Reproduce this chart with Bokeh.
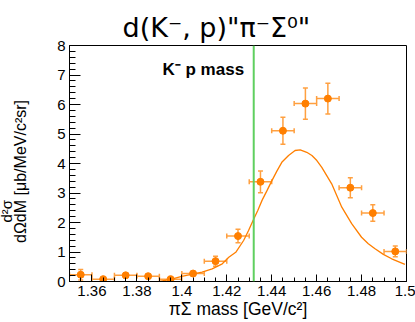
from bokeh.plotting import figure
from bokeh.models import (ColumnDataSource, Whisker, TeeHead, Span, Label,
                          Range1d, FixedTicker, Title)
from bokeh.embed import file_html
from bokeh.resources import INLINE

# ---- data ----
bin_centers = [1.355, 1.365, 1.375, 1.385, 1.395, 1.405, 1.415, 1.425,
               1.435, 1.445, 1.455, 1.465, 1.475, 1.485, 1.495]
cross_section = [0.23, 0.08, 0.21, 0.18, 0.08, 0.27, 0.69, 1.54,
                 3.38, 5.11, 6.03, 6.20, 3.18, 2.32, 1.02]
cross_section_err = [0.18, 0.05, 0.08, 0.07, 0.05, 0.07, 0.17, 0.23,
                     0.37, 0.46, 0.53, 0.52, 0.34, 0.28, 0.18]
bin_half_width = [0.005] * 15

fit_x = [1.390, 1.395, 1.400, 1.409, 1.4135, 1.418, 1.4209, 1.424, 1.4275,
         1.4297, 1.4317, 1.4338, 1.4357, 1.4379, 1.4401, 1.4423, 1.4445,
         1.4475, 1.4504, 1.4527, 1.4556, 1.4579, 1.4601, 1.4623, 1.4645,
         1.4667, 1.4689, 1.4712, 1.4734, 1.4756, 1.4800, 1.4830, 1.4860,
         1.4897, 1.4934, 1.4993]
fit_y = [0.0, 0.07, 0.17, 0.32, 0.43, 0.60, 0.82, 0.99, 1.39,
         1.73, 2.07, 2.41, 2.75, 3.08, 3.42, 3.74, 4.04,
         4.27, 4.44, 4.46, 4.38, 4.27, 4.10, 3.87, 3.59,
         3.31, 2.92, 2.52, 2.24, 1.96, 1.50, 1.28, 1.11,
         0.92, 0.77, 0.58]

kp_threshold = 1.432

x_ticks = [1.36, 1.38, 1.40, 1.42, 1.44, 1.46, 1.48, 1.50]
x_tick_labels = ["1.36", "1.38", "1.4", "1.42", "1.44", "1.46", "1.48", "1.5"]
y_ticks = [0, 1, 2, 3, 4, 5, 6, 7, 8]

ORANGE = "#ff7f00"
ERR = "#ffa040"

src = ColumnDataSource(dict(
    x=bin_centers, y=cross_section,
    lo=[v - e for v, e in zip(cross_section, cross_section_err)],
    hi=[v + e for v, e in zip(cross_section, cross_section_err)],
    xl=[c - h for c, h in zip(bin_centers, bin_half_width)],
    xh=[c + h for c, h in zip(bin_centers, bin_half_width)],
))

p = figure(width=415, height=322, output_backend="svg", toolbar_location=None,
           x_range=Range1d(1.35, 1.50), y_range=Range1d(0, 8),
           min_border_left=67, min_border_right=9, min_border_top=45,
           min_border_bottom=41)
p.grid.visible = False
p.outline_line_color = "black"
p.outline_line_width = 1
p.background_fill_color = "white"
p.border_fill_color = "white"

for ax in (p.xaxis[0], p.yaxis[0]):
    ax.major_tick_in = 0
    ax.major_tick_out = 0
    ax.minor_tick_in = 0
    ax.minor_tick_out = 0
    ax.axis_line_color = "black"
    ax.major_label_text_font = "Liberation Sans"
    ax.major_label_text_font_size = "15px"
    ax.major_label_text_color = "black"
    ax.axis_label_text_font = "Liberation Sans"
    ax.axis_label_text_font_style = "normal"
    ax.axis_label_text_color = "black"

p.xaxis.ticker = FixedTicker(ticks=x_ticks,
                             minor_ticks=[1.35 + 0.005 * i for i in range(31)])
p.xaxis.major_label_overrides = {t: l for t, l in zip(x_ticks, x_tick_labels)}
p.xaxis.major_tick_in = 7
p.xaxis.minor_tick_in = 4
p.xaxis.major_label_standoff = 4
p.xaxis.axis_label = "\u03c0\u03a3 mass [GeV/c\u00b2]"
p.xaxis.axis_label_text_font_size = "17.5px"
p.xaxis.axis_label_standoff = 0

p.yaxis.ticker = FixedTicker(ticks=y_ticks,
                             minor_ticks=[0.2 * i for i in range(41)])
p.yaxis.major_tick_in = 11
p.yaxis.minor_tick_in = 6
p.yaxis.major_label_standoff = 4
p.yaxis.axis_label = "d\u03a9dM [\u03bcb/MeV/c\u00b2sr]\u2003"
p.yaxis.axis_label_text_font_size = "16px"
p.yaxis.axis_label_standoff = 25

# numerator of the y-axis fraction
p.add_layout(Title(text="d\u00b2\u03c3", text_font="Liberation Sans",
                   text_font_size="15px", text_font_style="normal",
                   align="left", offset=59, standoff=-10,
                   vertical_align="bottom", text_color="black"), "left")

# title
p.title = Title(text='d(K\u207b, p)"\u03c0\u207b\u03a3\u2070"',
                text_font="DejaVu Sans", text_font_size="27px",
                text_font_style="normal", align="left", offset=53,
                standoff=6, text_color="black")

# fit curve
p.line(fit_x, fit_y, line_color=ORANGE, line_width=1.3)

# error bars
p.add_layout(Whisker(source=src, base="x", lower="lo", upper="hi",
                     dimension="height", line_color=ERR, line_width=1.5,
                     lower_head=TeeHead(size=5, line_color=ERR, line_width=1.5),
                     upper_head=TeeHead(size=5, line_color=ERR, line_width=1.5)))
p.add_layout(Whisker(source=src, base="y", lower="xl", upper="xh",
                     dimension="width", line_color=ERR, line_width=1.5,
                     lower_head=TeeHead(size=5, line_color=ERR, line_width=1.5),
                     upper_head=TeeHead(size=5, line_color=ERR, line_width=1.5)))
p.scatter("x", "y", source=src, size=7, color=ORANGE)

# K- p threshold
p.add_layout(Span(location=kp_threshold, dimension="height",
                  line_color="#5fcf5f", line_width=2))
p.add_layout(Label(x=93, y=212, x_units="screen", y_units="screen",
                   text="K\u207b p mass", text_font="Liberation Sans",
                   text_font_style="bold", text_font_size="17px",
                   text_baseline="middle", text_color="black"))

open("out.html", "w").write(file_html(p, INLINE))
